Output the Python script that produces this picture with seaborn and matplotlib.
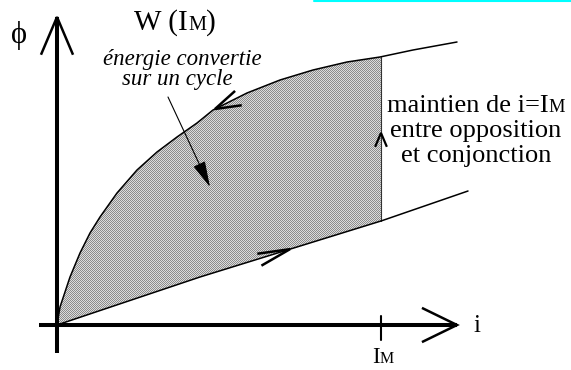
import numpy as np
import pandas as pd
import seaborn as sns
import matplotlib.pyplot as plt
from matplotlib.colors import ListedColormap
from matplotlib.patches import Polygon

# ---- data (units: i, phi in pixel-like scale) ----
i_upper = [0, 3, 13, 23, 33, 43, 60, 80, 100, 120, 140, 156, 190, 223, 256, 290, 323, 356, 400]
phi_upper = [0, 18, 48, 72, 92, 108, 132, 155, 173, 188, 202, 215, 232, 245, 255, 263, 268, 275, 283]
i_lower = [0, 143, 324, 411]
phi_lower = [0, 48, 104, 134]
i_max = 324

label_phi = "\u03d5"
label_i = "i"
title_parts = [("W (I", 1.0), ("M", 0.7), (")", 1.0)]
italic_lines = ["énergie convertie", "sur un cycle"]
right_lines = [[("maintien de i=I", 1.0), ("M", 0.7)],
               [("entre opposition", 1.0)],
               [("et conjonction", 1.0)]]
im_parts = [("I", 1.0), ("M", 0.7)]

sns.set_theme(style="white")
plt.rcParams["font.family"] = ["Liberation Serif", "DejaVu Serif"]

fig = plt.figure(figsize=(5.71, 3.70), dpi=100)
ax = fig.add_axes([0, 0, 1, 1])
ax.set_xlim(-57, 514)
ax.set_ylim(-45, 325)
ax.axis("off")
renderer = fig.canvas.get_renderer()

# ---- shaded area (checker pattern clipped to the cycle) ----
iu = np.array(i_upper, float); pu = np.array(phi_upper, float)
il = np.array(i_lower, float); pl = np.array(phi_lower, float)
up_top = np.interp(i_max, iu, pu)
lo_top = np.interp(i_max, il, pl)
poly = [(x, y) for x, y in zip(iu, pu) if x < i_max] + [(i_max, up_top), (i_max, lo_top)]
poly += [(x, y) for x, y in zip(il[::-1], pl[::-1]) if x < i_max]
patch = Polygon(poly, closed=True, facecolor="none", edgecolor="none")
ax.add_patch(patch)
rr, cc = np.mgrid[0:370, 0:571]
checker = (rr + cc) % 2
im = ax.imshow(checker, cmap=ListedColormap(["#8c8c8c", "#dcdcdc"]),
               extent=(-57, 514, -45, 325), interpolation="nearest",
               origin="upper", aspect="auto", zorder=1)
im.set_clip_path(patch)
ax.set_xlim(-57, 514)
ax.set_ylim(-45, 325)

# right boundary of the area
ax.plot([i_max, i_max], [lo_top, up_top], color="#333333", lw=0.8, zorder=2)

# ---- curves ----
sns.lineplot(x=i_upper, y=phi_upper, ax=ax, color="black", lw=1.1, sort=False,
             estimator=None, zorder=3)
sns.lineplot(x=i_lower, y=phi_lower, ax=ax, color="black", lw=1.1, sort=False,
             estimator=None, zorder=3)

# ---- axes ----
ax.plot([0, 0], [-28, 308], color="black", lw=2.9, solid_capstyle="butt", zorder=4)
ax.plot([-18, 400], [0, 0], color="black", lw=2.9, solid_capstyle="butt", zorder=4)
ax.plot([i_max, i_max], [9, -15], color="black", lw=1.5, zorder=4)


def chevron(tip, direction, length, spread, lw=1.8):
    back = np.deg2rad(direction + 180)
    s = np.deg2rad(spread)
    x0, y0 = tip
    p1 = (x0 + length * np.cos(back - s), y0 + length * np.sin(back - s))
    p2 = (x0 + length * np.cos(back + s), y0 + length * np.sin(back + s))
    ax.plot([p1[0], x0, p2[0]], [p1[1], y0, p2[1]], color="black", lw=lw,
            solid_joinstyle="miter", solid_capstyle="butt", zorder=5)


chevron((0, 308), 90, 41, 23)
chevron((400, 0), 0, 39, 26)

# arrows along the cycle
tx = 158
ty = np.interp(tx, iu, pu)
chevron((tx, ty), 180 + 25, 27, 17)
tx2 = 233
ty2 = np.interp(tx2, il, pl)
chevron((tx2, ty2), 19, 33, 11)
chevron((i_max, 192), 90, 15, 23, lw=1.6)

# pointer arrow
ax.annotate("", xy=(153, 138), xytext=(111, 228),
            arrowprops=dict(arrowstyle="-|>,head_length=0.9,head_width=0.22",
                            color="black", lw=0.8, mutation_scale=18,
                            shrinkA=0, shrinkB=0), zorder=5)

# cyan line at top
ax.plot([257, 514], [324.4, 324.4], color="#00ffff", lw=1.5, zorder=5)


def rich(xc, yb, parts, size, style="normal", ha="center"):
    texts = []
    for s, f in parts:
        t = ax.text(0, yb, s, fontsize=size * f, fontstyle=style,
                    va="baseline", ha="left", color="black", zorder=6)
        texts.append(t)
    widths = [t.get_window_extent(renderer=renderer).width for t in texts]
    total = sum(widths)
    x = xc - total / 2 if ha == "center" else xc
    for t, w in zip(texts, widths):
        t.set_x(x)
        x += w


# texts
ax.text(-38, 289, label_phi, fontsize=22, ha="center", va="center", color="black")
ax.text(420, -7, label_i, fontsize=18, ha="center", va="baseline", color="black")
rich(i_max + 2, -38, im_parts, 16.5)
rich(118, 295, title_parts, 21)
ax.text(125, 260, italic_lines[0], fontsize=16.5, fontstyle="italic",
        ha="center", va="baseline", color="black")
ax.text(120, 240, italic_lines[1], fontsize=16.5, fontstyle="italic",
        ha="center", va="baseline", color="black")
for k, (parts, yb) in enumerate(zip(right_lines, [213, 188, 163])):
    rich(419, yb, parts, 19)

fig.savefig("out.png", dpi=100)
